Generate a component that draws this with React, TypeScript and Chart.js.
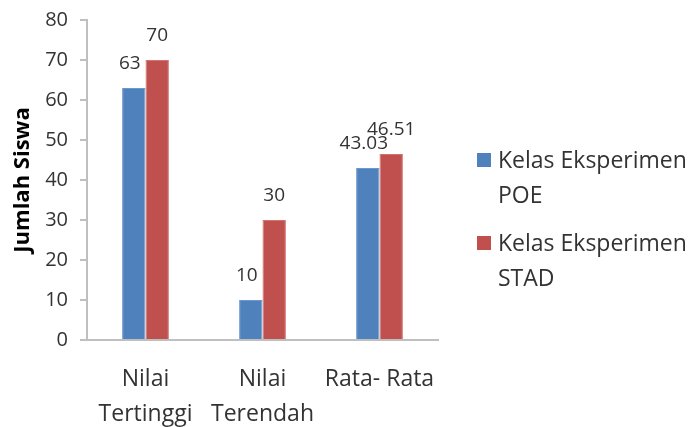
import React, { useEffect, useRef } from "react";
import { Chart, registerables } from "chart.js";

Chart.register(...registerables);

const categories: (string | string[])[] = [["Nilai", "Tertinggi"], ["Nilai", "Terendah"], "Rata- Rata"];
const poeValues = [63, 10, 43.03];
const stadValues = [70, 30, 46.51];
const poeLabels = ["63", "10", "43.03"];
const stadLabels = ["70", "30", "46.51"];
const seriesNames = [["Kelas Eksperimen", "POE"], ["Kelas Eksperimen", "STAD"]];
const yTicks = [0, 10, 20, 30, 40, 50, 60, 70, 80];

const BLUE = "#4F81BD";
const RED = "#C0504D";
const TEXT = "#333333";
const AXIS = "#BFBFBF";
const FONT = "'Open Sans', 'Noto Sans', sans-serif";

const valueLabelPlugin = {
  id: "valueLabels",
  afterDatasetsDraw(chart: any) {
    const ctx = chart.ctx;
    ctx.save();
    ctx.font = `19px ${FONT}`;
    ctx.fillStyle = TEXT;
    ctx.textAlign = "center";
    ctx.textBaseline = "middle";
    const labelSets = [poeLabels, stadLabels];
    chart.data.datasets.forEach((_: any, di: number) => {
      const meta = chart.getDatasetMeta(di);
      meta.data.forEach((bar: any, i: number) => {
        const dx = di === 0 ? -4 : 0;
        ctx.fillText(labelSets[di][i], bar.x + dx, bar.y - 24);
      });
    });
    ctx.restore();
  },
};

const legendPlugin = {
  id: "sideLegend",
  afterDraw(chart: any) {
    const ctx = chart.ctx;
    ctx.save();
    ctx.font = `23px ${FONT}`;
    ctx.fillStyle = TEXT;
    ctx.textAlign = "left";
    ctx.textBaseline = "middle";
    const colors = [BLUE, RED];
    const x0 = 477;
    const startY = 160;
    const itemGap = 83;
    const lineGap = 35;
    seriesNames.forEach((lines, i) => {
      const y = startY + i * itemGap;
      ctx.fillStyle = colors[i];
      ctx.fillRect(x0, y - 7, 14, 14);
      ctx.fillStyle = TEXT;
      lines.forEach((t, li) => {
        ctx.fillText(t, x0 + 21, y + li * lineGap + 1);
      });
    });
    ctx.restore();
  },
};

export default function App() {
  const ref = useRef<HTMLCanvasElement | null>(null);

  useEffect(() => {
    document.body.style.margin = "0";
    if (!ref.current) return;
    const chart = new Chart(ref.current, {
      type: "bar",
      data: {
        labels: categories as any,
        datasets: [
          {
            label: seriesNames[0].join(" "),
            data: poeValues,
            backgroundColor: BLUE,
            borderColor: "#6C97CC",
            borderWidth: 1,
          },
          {
            label: seriesNames[1].join(" "),
            data: stadValues,
            backgroundColor: RED,
            borderColor: "#D27370",
            borderWidth: 1,
          },
        ],
      },
      options: {
        animation: false,
        responsive: false,
        maintainAspectRatio: false,
        layout: { padding: { left: 0, top: 20, right: 251, bottom: 0 } },
        datasets: { bar: { categoryPercentage: 0.4, barPercentage: 1 } } as any,
        plugins: {
          legend: { display: false },
          tooltip: { enabled: false },
        },
        scales: {
          x: {
            grid: { display: false },
            border: { display: true, color: AXIS, width: 2 },
            ticks: {
              color: TEXT,
              font: { family: FONT, size: 23, lineHeight: 1.52 },
              padding: 14,
              maxRotation: 0,
              autoSkip: false,
            },
            afterFit(scale: any) {
              scale.height = 87;
            },
          },
          y: {
            min: 0,
            max: 80,
            afterBuildTicks(scale: any) {
              scale.ticks = yTicks.map((v) => ({ value: v }));
            },
            grid: { drawOnChartArea: false, drawTicks: true, tickLength: 7, color: AXIS, lineWidth: 2 },
            border: { display: true, color: AXIS, width: 2 },
            ticks: {
              color: TEXT,
              font: { family: FONT, size: 20 },
              padding: 12,
            },
            title: {
              display: true,
              text: "Jumlah Siswa",
              color: "#000000",
              font: { family: FONT, size: 22, weight: "bold" },
              padding: { top: 10, bottom: 0 },
            },
            afterFit(scale: any) {
              scale.width = 87;
              scale.paddingTop = 0;
              scale.paddingBottom = 0;
            },
          },
        },
      },
      plugins: [valueLabelPlugin, legendPlugin],
    });
    return () => chart.destroy();
  }, []);

  return (
    <div style={{ width: 689, height: 427, background: "#ffffff" }}>
      <canvas ref={ref} width={689} height={427} style={{ display: "block", width: 689, height: 427 }} />
    </div>
  );
}
